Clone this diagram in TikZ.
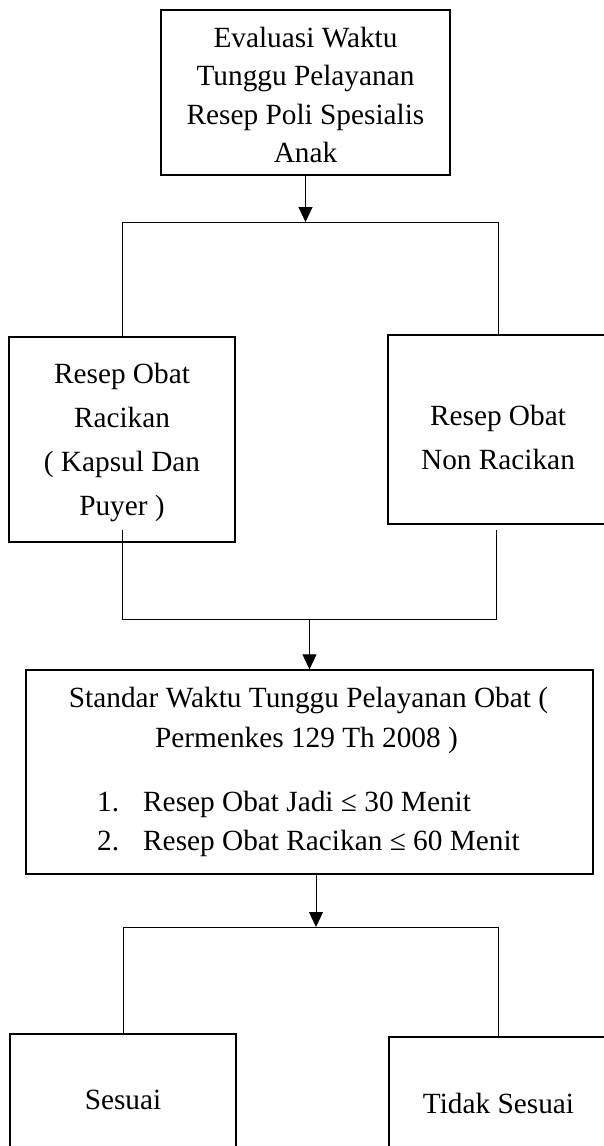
\documentclass[tikz,border=0pt]{standalone}
\usepackage{fontspec}
\setmainfont{Liberation Serif}
\usetikzlibrary{arrows.meta}
\begin{document}
\begin{tikzpicture}[x=1pt,y=-1pt,
  box/.style={draw, line width=1.4pt, inner sep=0pt},
  conn/.style={line width=1pt},
  arr/.style={conn, -{Triangle[length=15pt,width=14pt]}},
  txt/.style={inner sep=0pt, align=center, font=\fontsize{29.3}{38.5}\selectfont},
  txtw/.style={txt, font=\fontsize{29.3}{44}\selectfont},
  line/.style={inner sep=0pt, font=\fontsize{29.3}{38.5}\selectfont, anchor=base},
  item/.style={line, anchor=base west}]
\useasboundingbox (0,0) rectangle (603,1146);

% boxes
\node[box, minimum width=289pt, minimum height=165pt] (eval) at (305.5,92.5) {};
\node[box, minimum width=226pt, minimum height=205pt] (rac) at (122,439.5) {};
\node[box, minimum width=220pt, minimum height=189pt] (nonrac) at (498,429.5) {};
\node[box, minimum width=567pt, minimum height=204pt] (std) at (309.5,772) {};
\node[box, minimum width=226pt, minimum height=130pt] (ses) at (123,1099) {};
\node[box, minimum width=219pt, minimum height=132pt] (tid) at (498.5,1103) {};

% texts
\node[txt] (evalT) at (305.5,95) {Evaluasi Waktu\\Tunggu Pelayanan\\Resep Poli Spesialis\\Anak};
\node[txtw] (racT) at (122,442.8) {Resep Obat\\Racikan\\( Kapsul Dan\\Puyer )};
\node[txtw] (nonracT) at (498,437) {Resep Obat\\Non Racikan};
\node[line] (std1) at (308.5,707) {Standar Waktu Tunggu Pelayanan Obat (};
\node[line] (std2) at (306.5,747) {Permenkes 129 Th 2008 )};
\node[item] (n1) at (97,811) {1.};
\node[item] (i1) at (143,811) {Resep Obat Jadi ≤ 30 Menit};
\node[item] (n2) at (97,850) {2.};
\node[item] (i2) at (143,850) {Resep Obat Racikan ≤ 60 Menit};
\node[line] (sesT) at (123,1109) {Sesuai};
\node[line] (tidT) at (498.5,1113) {Tidak Sesuai};

% connectors
\coordinate (j1) at (305.5,222);
\draw[arr] (eval.south) -- (j1);
\draw[conn] (rac.north) -- (rac.north |- j1) -- (nonrac.north |- j1) -- (nonrac.north);

\coordinate (r1) at (122,530);
\coordinate (r2) at (496,530);
\coordinate (j2) at (309.5,619);
\draw[conn] (r1) -- (r1 |- j2) -- (r2 |- j2) -- (r2);
\draw[arr] (j2) -- (std.north);

\coordinate (j3) at (316,927);
\draw[arr] (j3 |- std.south) -- (j3);
\draw[conn] (ses.north) -- (ses.north |- j3) -- (tid.north |- j3) -- (tid.north);
\end{tikzpicture}
\end{document}
